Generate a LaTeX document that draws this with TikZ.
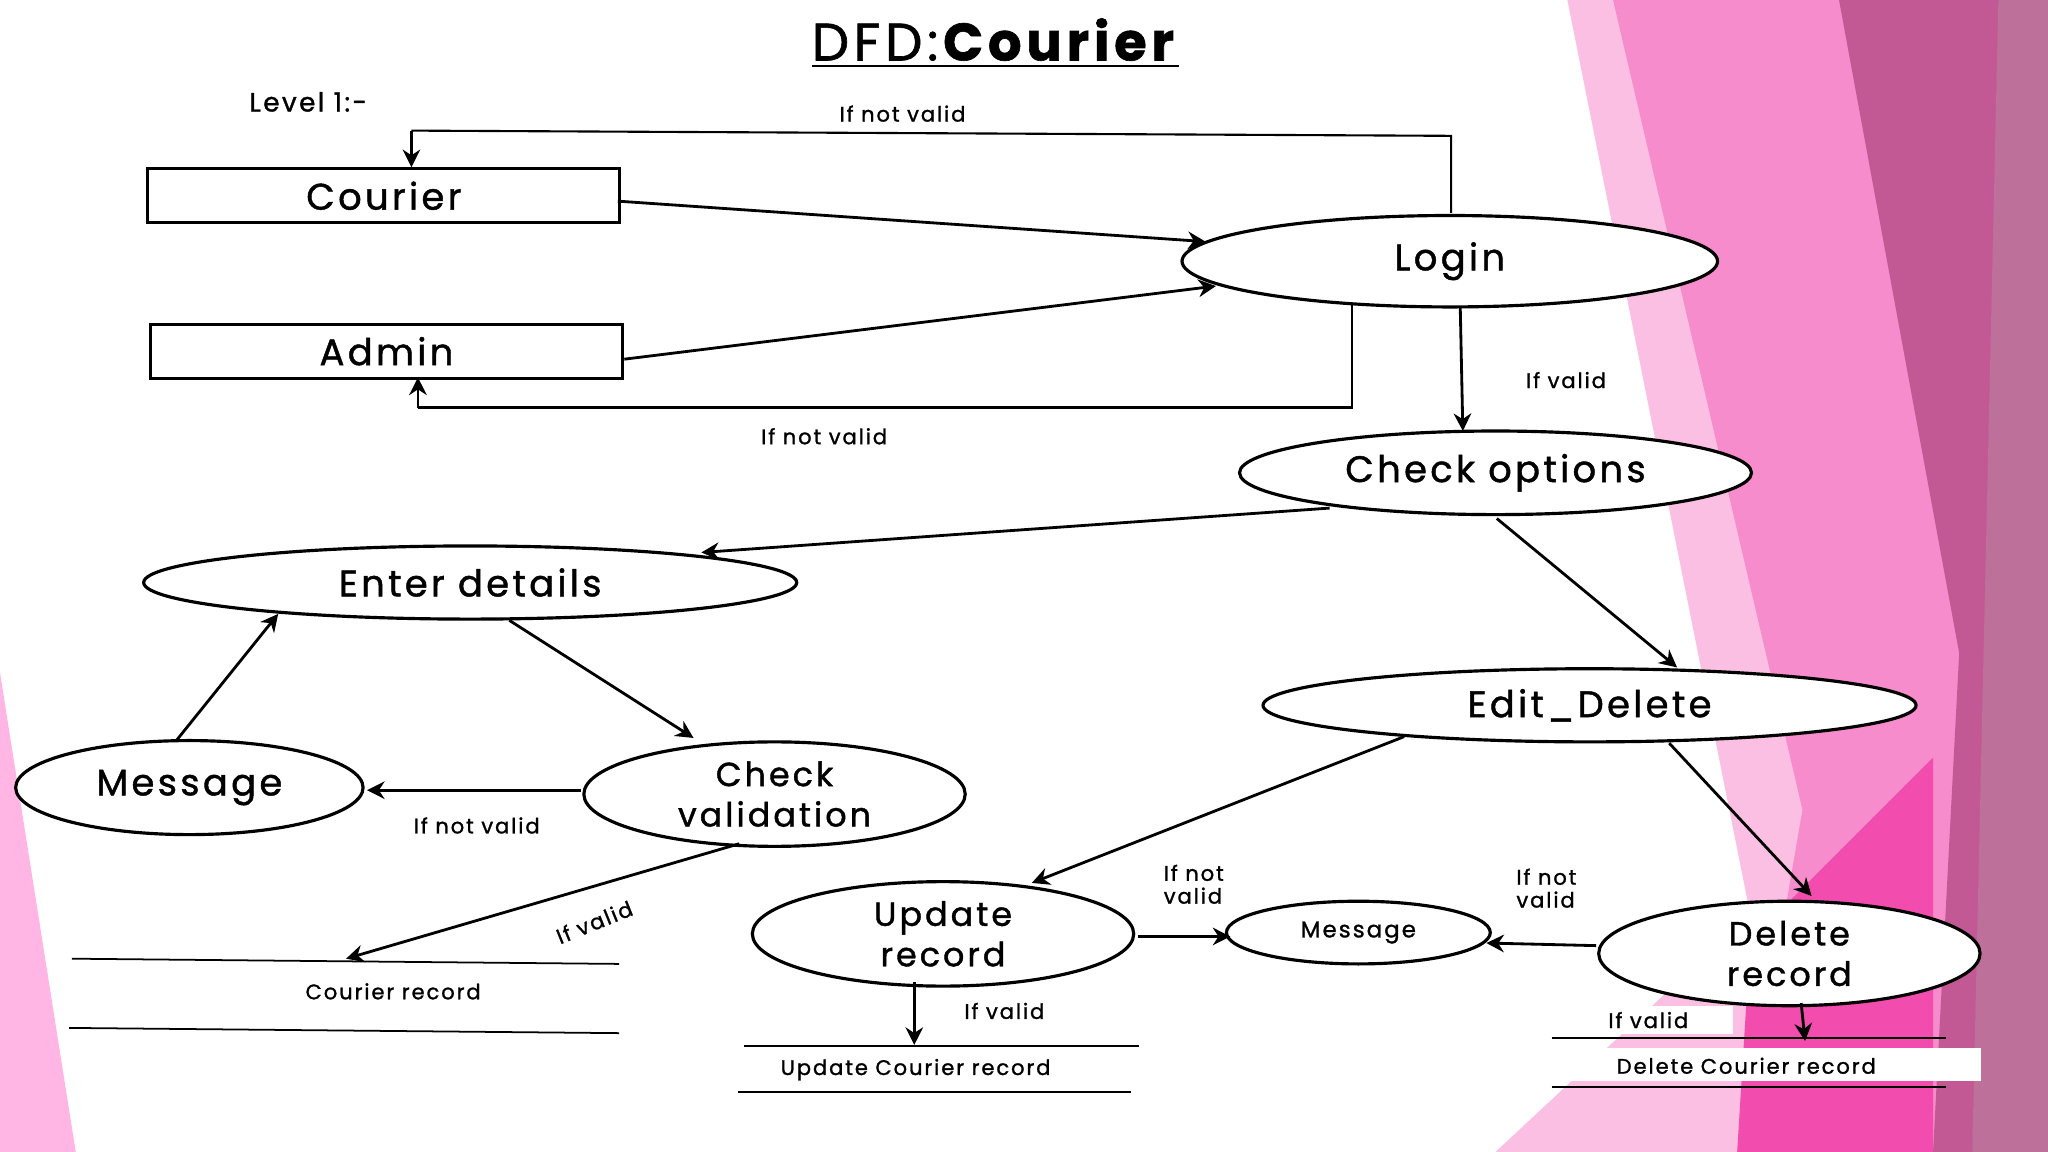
\documentclass[tikz,border=0pt]{standalone}
\usepackage{fontspec}
\setmainfont{Poppins}[LetterSpace=9,FakeBold=1.2]
\usetikzlibrary{shapes.geometric,arrows.meta}
\begin{document}
\begin{tikzpicture}[x=0.013061cm,y=-0.013061cm,
 el/.style={draw,fill=white,ellipse,line width=0.9pt,inner sep=0pt},
 bx/.style={draw,line width=0.9pt},
 ar/.style={-{Stealth[length=5pt,width=5pt]},line width=0.8pt},
 ln/.style={line width=0.5pt},
 big/.style={font=\fontsize{10.5}{11}\selectfont},
 mid/.style={align=center,font=\fontsize{9.5}{11.5}\selectfont},
 sm/.style={font=\fontsize{6}{7}\selectfont,align=left}]
\useasboundingbox (0,0) rectangle (1568,882);
% background
\fill[white] (0,0) rectangle (1568,882);
\fill[pink!70!magenta!60] (0,515) -- (58,882) -- (0,882) -- cycle;
\fill[magenta!25] (1200,0) -- (1568,0) -- (1568,882) -- (1145,882) -- (1340,700) -- cycle;
\fill[magenta!45] (1235,0) -- (1568,0) -- (1568,882) -- (1335,882) -- (1380,620) -- cycle;
\fill[magenta!70!white] (1340,720) -- (1480,580) -- (1480,882) -- (1330,882) -- cycle;
\fill[magenta!70!black!80] (1408,0) -- (1568,0) -- (1568,882) -- (1480,882) -- (1500,500) -- cycle;
\fill[magenta!60!black!70] (1530,0) -- (1568,0) -- (1568,882) -- (1510,882) -- cycle;
% title
\node (title) at (762,33) {\fontsize{15}{16}\selectfont\underline{DFD:\textbf{Courier}}};
\node (lvl) at (236,78) {\fontsize{7.5}{9}\selectfont Level 1:-};
% nodes
\node[bx,big,anchor=north west,minimum width=4.72cm,minimum height=0.54cm] (courier) at (112,128) {Courier};
\node[bx,big,anchor=north west,minimum width=4.72cm,minimum height=0.54cm] (admin) at (114,247) {Admin};
\node[el,big,minimum width=410*0.013061cm,minimum height=70*0.013061cm] (login) at (1110,200) {Login};
\node[el,big,minimum width=392*0.013061cm,minimum height=64*0.013061cm] (check) at (1145,362) {Check options};
\node[el,big,minimum width=500*0.013061cm,minimum height=56*0.013061cm] (enter) at (360,446) {Enter details};
\node[el,big,minimum width=500*0.013061cm,minimum height=56*0.013061cm] (edit) at (1217,540) {Edit\_Delete};
\node[el,big,minimum width=266*0.013061cm,minimum height=72*0.013061cm] (msg1) at (145,603) {Message};
\node[el,mid,minimum width=292*0.013061cm,minimum height=80*0.013061cm] (valid) at (593,608) {Check\\validation};
\node[el,mid,minimum width=292*0.013061cm,minimum height=80*0.013061cm] (update) at (722,715) {Update\\record};
\node[el,font=\fontsize{6.5}{8}\selectfont,minimum width=202*0.013061cm,minimum height=48*0.013061cm] (msg2) at (1040,714) {Message};
\node[el,mid,minimum width=292*0.013061cm,minimum height=80*0.013061cm] (delete) at (1370,730) {Delete\\record};
% data stores
\draw[ln] (55,734) -- (474,738);
\draw[ln] (53,787) -- (474,791);
\node[sm] (crec) at (301,759) {Courier record};
\draw[ln] (570,801) -- (872,801);
\draw[ln] (565,836) -- (866,836);
\node[sm] (urec) at (701,819) {Update Courier record};
\fill[white] (1186,802) rectangle (1517,828);
\fill[white] (1225,770) rectangle (1327,792);
\draw[ln] (1188,795) -- (1490,795);
\draw[ln] (1188,832) -- (1490,832);
\node[sm] (drec) at (1337,816) {Delete Courier record};
% coordinates
\coordinate (c1) at (1111,104); \coordinate (c2) at (315,100);
\coordinate (d1) at (1035,312); \coordinate (d2) at (320,312);
\coordinate (cr) at (265,734); \coordinate (ur) at (700,800); \coordinate (dr) at (1382,797);
% arrows
\draw[ar] (473,154) -- (923,185);
\draw[ar] (478,275) -- (931,219);
\draw[ln,line width=0.6pt] (1111,163) -- (c1) -- (c2);
\draw[ar] (c2) -- (315,128);
\draw[ln,line width=0.6pt] (1035,233) -- (d1) -- (d2);
\draw[ar] (d2) -- (320,289);
\draw[ar] (1118,235) -- (1120,330);
\draw[ar] (1018,389) -- (537,423);
\draw[ar] (1146,397) -- (1284,511);
\draw[ar] (390,475) -- (531,565);
\draw[ar] (135,567) -- (213,470);
\draw[ar] (445,605) -- (281,605);
\draw[ar] (566,646) -- (cr);
\draw[ar] (1075,564) -- (790,676);
\draw[ar] (1278,569) -- (1387,686);
\draw[ar] (871,717) -- (942,717);
\draw[ar] (1222,724) -- (1138,722);
\draw[ar] (700,752) -- (ur);
\draw[ar] (1379,768) -- (dr);
% labels
\node[sm] (l1) at (691,87) {If not valid};
\node[sm] (l2) at (631,334) {If not valid};
\node[sm] (l3) at (1199,291) {If valid};
\node[sm] (l4) at (365,632) {If not valid};
\node[sm,rotate=22] (l5) at (455,706) {If valid};
\node[sm,font=\fontsize{6}{6.5}\selectfont] (l6) at (914,677) {If not\\valid};
\node[sm,font=\fontsize{6}{6.5}\selectfont] (l7) at (1184,680) {If not\\valid};
\node[sm] (l8) at (769,774) {If valid};
\node[sm] (l9) at (1262,781) {If valid};
\end{tikzpicture}
\end{document}
